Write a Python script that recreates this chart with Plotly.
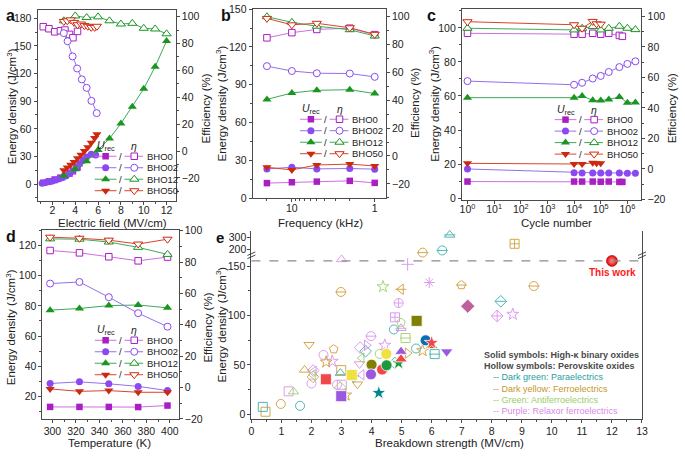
import plotly.graph_objects as go

W, H = 685, 456
FONT = "Liberation Sans, Arial, sans-serif"
INK = "#222222"
AX = "#4a4a4a"

# ---------------- data ----------------
series_names = ["BHO0", "BHO02", "BHO12", "BHO50"]

# panel a : electric field (MV/cm)
a_E_bho0 = [1.2, 1.7, 2.2, 2.7, 3.1, 3.5, 3.8, 4.2]
a_U_bho0 = [1.5, 3.0, 5.0, 7.0, 9.0, 11.5, 14.0, 18.0]
a_eta_bho0 = [92.5, 91.0, 88.7, 89.5, 90.0, 86.8, 84.3, 89.0]
a_E_bho02_U = [1.1, 1.4, 1.7, 2.0, 2.3, 2.6, 2.9, 3.2, 3.5, 3.8, 4.1, 4.4, 4.7, 5.0, 5.4, 5.8]
a_U_bho02 = [1.0, 1.8, 2.6, 3.5, 4.5, 5.8, 7.3, 9.0, 11.5, 14.5, 18.0, 22.0, 26.0, 29.5, 32.5, 31.5]
a_E_bho02_eta = [3.0, 3.33, 3.77, 4.17, 4.58, 5.0, 5.42, 5.88]
a_eta_bho02 = [87.7, 81.7, 70.4, 61.4, 53.3, 47.0, 37.3, 28.2]
a_E_bho12 = [3, 4, 5, 6, 7, 8, 9, 10, 11, 12]
a_U_bho12 = [9.2, 16.2, 24.7, 37.0, 49.4, 65.7, 84.0, 103.4, 127.4, 155.3]
a_eta_bho12 = [96.9, 100.5, 99.3, 99.8, 96.9, 94.5, 95.0, 91.3, 90.8, 87.2]
a_E_bho50 = [3.0, 3.3, 3.6, 3.9, 4.2, 4.5, 4.8, 5.1, 5.4, 5.7, 5.9]
a_U_bho50 = [15, 18, 21, 24, 28, 32, 36, 40, 45, 50, 54]
a_eta_bho50 = [96.4, 96.9, 97.6, 95.7, 94.0, 94.5, 93.3, 92.8, 92.0, 92.0, 92.8]

# panel b : frequency (kHz)
b_freq = [20, 10, 5, 2, 1]
b_U_bho0 = [11.9, 12.6, 13.1, 13.7, 12.1]
b_U_bho02 = [23.2, 24.5, 23.2, 23.5, 23.0]
b_U_bho12 = [78.4, 83.5, 85.6, 86.1, 83.0]
b_U_bho50 = [24.5, 22.4, 26.3, 27.0, 25.5]
b_eta_bho0 = [84.7, 88.4, 90.7, 91.6, 87.0]
b_eta_bho02 = [64.4, 60.9, 59.3, 59.1, 56.7]
b_eta_bho12 = [99.8, 95.8, 93.0, 90.5, 86.0]
b_eta_bho50 = [98.6, 94.0, 95.1, 91.9, 87.2]

# panel c : cycle number
c_N_bho0 = [1, 1e4, 2e4, 5e4, 1e5, 2e5, 5e5, 6.5e5]
c_U_bho0 = [9.7, 9.7, 9.7, 9.7, 9.6, 9.7, 9.5, 9.5]
c_eta_bho0 = [89.0, 88.4, 88.4, 89.0, 88.4, 89.0, 87.6, 87.0]
c_N_bho02 = [1, 1e4, 2e4, 5e4, 1e5, 2e5, 5e5, 1e6, 2e6]
c_U_bho02 = [17.1, 14.9, 14.8, 14.8, 14.7, 14.8, 14.7, 14.6, 14.6]
c_eta_bho02 = [57.6, 55.2, 56.5, 59.3, 61.0, 63.6, 66.8, 68.9, 70.6]
c_N_bho12 = [1, 1e4, 2e4, 5e4, 1e5, 2e5, 5e5, 1e6, 2e6]
c_U_bho12 = [59.0, 59.0, 60.0, 57.5, 57.3, 58.0, 59.4, 56.0, 56.2]
c_eta_bho12 = [92.3, 91.2, 92.3, 93.4, 91.2, 92.3, 93.6, 92.3, 91.4]
c_N_bho50 = [1, 1e4, 2e4, 5e4, 7e4, 1e5]
c_U_bho50 = [20.4, 20.0, 20.0, 20.8, 20.4, 20.4]
c_eta_bho50 = [96.6, 94.6, 92.3, 96.8, 95.2, 95.0]

# panel d : temperature (K)
d_T = [298, 323, 348, 373, 398]
d_U_bho0 = [13.1, 13.1, 13.1, 13.0, 14.0]
d_U_bho02 = [28.6, 29.7, 28.4, 26.7, 23.9]
d_U_bho12 = [77.2, 78.3, 80.2, 80.6, 78.7]
d_U_bho50 = [25.0, 23.4, 23.9, 22.8, 22.8]
d_eta_bho0 = [87.4, 85.9, 83.4, 80.8, 83.2]
d_eta_bho02 = [66.3, 67.3, 57.6, 47.4, 38.8]
d_eta_bho12 = [94.8, 94.6, 92.8, 89.4, 84.9]
d_eta_bho50 = [95.9, 95.2, 94.0, 91.5, 94.6]

# panel e : breakdown strength (MV/cm) vs energy density (J/cm3)
para_x = [0.38, 1.62, 2.96, 3.40, 3.80, 4.74, 4.77, 5.48, 6.10, 8.30, 6.35, 6.60]
para_y = [7.5, 8.6, 41.8, 37.0, 64.0, 86.0, 52.0, 66.7, 61.0, 114.5, 189.0, 318.0]
para_sym = ["square-open", "circle-open", "triangle-up-open", "triangle-down-open", "diamond-open",
            "circle-open", "diamond-open", "circle-open", "square-open", "diamond-open",
            "circle-open", "triangle-up-open"]
para_bar = [0, 0, 0, 0, 0, 0, 0, 0, 1, 1, 1, 1]

ferro_x = [0.47, 0.98, 1.77, 1.92, 2.05, 2.49, 2.74, 2.99, 3.14, 2.98, 3.53, 4.98, 5.20, 5.70, 6.99, 9.40, 5.70, 8.76]
ferro_y = [2.6, 10.5, 45.0, 70.5, 38.0, 53.0, 66.0, 44.8, 19.5, 124.0, 30.5, 126.7, 62.0, 64.5, 131.0, 130.0, 171.0, 244.0]
ferro_sym = ["square-open", "circle-open", "triangle-up-open", "triangle-down-open", "diamond-open",
             "star-open", "pentagon-open", "square-open", "star-open", "circle-open", "triangle-down-open",
             "triangle-left-open", "triangle-right-open", "star-open", "pentagon-open", "circle-open",
             "circle-open", "square-cross-open"]
ferro_bar = [0, 0, 0, 0, 0, 0, 0, 0, 0, 1, 0, 1, 0, 0, 1, 1, 1, 0]

anti_x = [1.40, 2.96, 3.67, 4.27, 4.38, 4.98, 5.13, 2.05]
anti_y = [23.0, 27.0, 57.0, 61.2, 129.3, 93.0, 77.3, 40.0]
anti_sym = ["triangle-up-open", "diamond-open", "triangle-left-open", "circle-open", "star-open",
            "pentagon-open", "square-open", "triangle-left-open"]
anti_bar = [0, 0, 0, 0, 0, 0, 1, 0]

relax_x = [1.24, 2.06, 2.00, 2.08, 2.40, 2.69, 2.85, 3.01, 3.00, 3.62, 3.84, 3.60, 3.67, 3.98,
           4.44, 4.90, 4.78, 4.98, 5.20, 5.92, 8.18, 8.70]
relax_y = [23.3, 44.4, 31.2, 43.7, 60.2, 53.7, 30.0, 30.0, 157.0, 67.6, 70.0, 51.0, 40.0, 79.2,
           70.0, 112.8, 98.3, 87.2, 152.0, 133.6, 99.7, 101.4]
relax_sym = ["square-open", "diamond-open", "circle-open", "triangle-left-open", "circle-open",
             "star-open", "circle-open", "square-open", "triangle-up-open", "diamond-open",
             "triangle-right-open", "triangle-down-open", "triangle-left-open", "circle-open",
             "star-open", "circle-cross-open", "square-cross-open", "triangle-up-open",
             "cross-thin-open", "asterisk-open", "diamond-cross-open", "star-open"]
relax_bar = [0, 0, 0, 0, 0, 0, 0, 0, 0, 0, 0, 0, 0, 1, 0, 0, 0, 1, 0, 0, 0, 0]

solid_x = [2.48, 2.99, 3.34, 5.50, 5.80, 6.00, 6.00, 6.50, 4.00, 3.98, 4.35, 4.50, 4.49, 4.98, 4.90, 4.98, 4.24, 7.20]
solid_y = [35.5, 18.4, 39.8, 94.7, 75.0, 69.5, 72.5, 63.5, 50.3, 40.5, 45.4, 49.7, 61.2, 63.5, 52.0, 55.9, 21.7, 109.6]
solid_sym = ["square", "square", "square", "square", "circle", "triangle-up", "star", "triangle-down",
             "circle", "circle", "circle", "circle", "circle", "triangle-up", "star", "triangle-up",
             "star", "diamond"]
solid_col = ["#f04848", "#9a58e0", "#f0e040", "#808000", "#0a6eb4", "#b45a14", "#f04848", "#9a58e0",
             "#808000", "#9a58e0", "#f04848", "#1e9a3c", "#f0e040", "#9a58e0", "#1e9a3c", "#f04848",
             "#00868b", "#c0609a"]

this_work_x = [12.0]
this_work_y = [155.5]
dash_level = 155.5
break_value = 161.2

# ---------------- styles ----------------
LINE_COL = {"BHO0": "#cf6ee0", "BHO02": "#9470ec", "BHO12": "#3da85c", "BHO50": "#d9452e"}
MARK_COL = {"BHO0": "#a81fc4", "BHO02": "#8a4af0", "BHO12": "#1a951f", "BHO50": "#cc2a10"}
SYM = {"BHO0": "square", "BHO02": "circle", "BHO12": "triangle-up", "BHO50": "triangle-down"}
MSIZE = {"BHO0": 6.5, "BHO02": 7, "BHO12": 8, "BHO50": 8}
C_PARA, C_FERRO, C_ANTI, C_RELAX = "#52b6b6", "#d6a64c", "#a6d674", "#dd9cf0"

fig = go.Figure()


def add_pair(xu, u, xe, e, name, xa, yl, yr):
    fig.add_trace(go.Scatter(
        x=xu, y=u, mode="lines+markers", xaxis=xa, yaxis=yl, cliponaxis=False,
        line=dict(color=LINE_COL[name], width=1),
        marker=dict(symbol=SYM[name], size=MSIZE[name], color=MARK_COL[name], line=dict(width=0))))
    fig.add_trace(go.Scatter(
        x=xe, y=e, mode="lines+markers", xaxis=xa, yaxis=yr, cliponaxis=False,
        line=dict(color=LINE_COL[name], width=1),
        marker=dict(symbol=SYM[name], size=MSIZE[name], color="white",
                    line=dict(color=MARK_COL[name], width=1))))


# panel a
add_pair(a_E_bho0, a_U_bho0, a_E_bho0, a_eta_bho0, "BHO0", "x", "y", "y2")
add_pair(a_E_bho02_U, a_U_bho02, a_E_bho02_eta, a_eta_bho02, "BHO02", "x", "y", "y2")
add_pair(a_E_bho12, a_U_bho12, a_E_bho12, a_eta_bho12, "BHO12", "x", "y", "y2")
add_pair(a_E_bho50, a_U_bho50, a_E_bho50, a_eta_bho50, "BHO50", "x", "y", "y2")
# panel b
add_pair(b_freq, b_U_bho0, b_freq, b_eta_bho0, "BHO0", "x2", "y3", "y4")
add_pair(b_freq, b_U_bho02, b_freq, b_eta_bho02, "BHO02", "x2", "y3", "y4")
add_pair(b_freq, b_U_bho12, b_freq, b_eta_bho12, "BHO12", "x2", "y3", "y4")
add_pair(b_freq, b_U_bho50, b_freq, b_eta_bho50, "BHO50", "x2", "y3", "y4")
# panel c
add_pair(c_N_bho0, c_U_bho0, c_N_bho0, c_eta_bho0, "BHO0", "x3", "y5", "y6")
add_pair(c_N_bho02, c_U_bho02, c_N_bho02, c_eta_bho02, "BHO02", "x3", "y5", "y6")
add_pair(c_N_bho12, c_U_bho12, c_N_bho12, c_eta_bho12, "BHO12", "x3", "y5", "y6")
add_pair(c_N_bho50, c_U_bho50, c_N_bho50, c_eta_bho50, "BHO50", "x3", "y5", "y6")
# panel d
add_pair(d_T, d_U_bho0, d_T, d_eta_bho0, "BHO0", "x4", "y7", "y8")
add_pair(d_T, d_U_bho02, d_T, d_eta_bho02, "BHO02", "x4", "y7", "y8")
add_pair(d_T, d_U_bho12, d_T, d_eta_bho12, "BHO12", "x4", "y7", "y8")
add_pair(d_T, d_U_bho50, d_T, d_eta_bho50, "BHO50", "x4", "y7", "y8")


# panel e
def add_group(xs, ys, syms, bars, color, size):
    lower = [i for i in range(len(xs)) if ys[i] <= break_value]
    upper = [i for i in range(len(xs)) if ys[i] > break_value]
    for idx, ya in ((lower, "y9"), (upper, "y10")):
        if not idx:
            continue
        fig.add_trace(go.Scatter(
            x=[xs[i] for i in idx], y=[ys[i] for i in idx], mode="markers",
            xaxis="x5", yaxis=ya, cliponaxis=False,
            marker=dict(symbol=[syms[i] for i in idx], size=size, color=color,
                        line=dict(color=color, width=1))))
        bidx = [i for i in idx if bars[i]]
        if bidx:
            fig.add_trace(go.Scatter(
                x=[xs[i] for i in bidx], y=[ys[i] for i in bidx], mode="markers",
                xaxis="x5", yaxis=ya, cliponaxis=False,
                marker=dict(symbol="line-ew-open", size=size - 1, color=color,
                            line=dict(color=color, width=1))))


add_group(relax_x, relax_y, relax_sym, relax_bar, C_RELAX, 9)
add_group(ferro_x, ferro_y, ferro_sym, ferro_bar, C_FERRO, 9)
add_group(anti_x, anti_y, anti_sym, anti_bar, C_ANTI, 9)
add_group(para_x, para_y, para_sym, para_bar, C_PARA, 9)

fig.add_trace(go.Scatter(
    x=solid_x, y=solid_y, mode="markers", xaxis="x5", yaxis="y9", cliponaxis=False,
    marker=dict(symbol=solid_sym, size=11, color=solid_col, line=dict(color="white", width=0.8))))
fig.add_trace(go.Scatter(
    x=this_work_x, y=this_work_y, mode="markers", xaxis="x5", yaxis="y9", cliponaxis=False,
    marker=dict(symbol="circle", size=11, color="#e00000",
                gradient=dict(type="radial", color="#ff9a9a"), line=dict(color="#b00000", width=0.6))))

# ---------------- legends for panels a-d (drawn on a pixel-scaled helper axis) ----------------
annotations = []
ROW = 11.8


def add_key(x0, y_title):
    annotations.append(dict(x=x0 + 11, y=y_title, xref="x7", yref="y11", text="<i>U</i><sub>rec</sub>",
                            showarrow=False, xanchor="center", yanchor="middle",
                            font=dict(family=FONT, size=10.5, color=INK)))
    annotations.append(dict(x=x0 + 40, y=y_title, xref="x7", yref="y11", text="<i>η</i>",
                            showarrow=False, xanchor="center", yanchor="middle",
                            font=dict(family=FONT, size=10.5, color=INK)))
    for i, name in enumerate(series_names):
        y = y_title + 10.3 + ROW * i
        fig.add_trace(go.Scatter(
            x=[x0, x0 + 22, None, x0 + 30, x0 + 49], y=[y, y, None, y, y], mode="lines",
            xaxis="x7", yaxis="y11", line=dict(color=LINE_COL[name], width=1)))
        fig.add_trace(go.Scatter(
            x=[x0 + 11, x0 + 40], y=[y, y], mode="markers", xaxis="x7", yaxis="y11",
            marker=dict(symbol=SYM[name], size=MSIZE[name], color=[MARK_COL[name], "white"],
                        line=dict(color=MARK_COL[name], width=[0, 1]))))
        annotations.append(dict(x=x0 + 26, y=y, xref="x7", yref="y11", text="/", showarrow=False,
                                xanchor="center", yanchor="middle",
                                font=dict(family=FONT, size=9.5, color=INK)))
        annotations.append(dict(x=x0 + 51, y=y, xref="x7", yref="y11", text=name, showarrow=False,
                                xanchor="left", yanchor="middle",
                                font=dict(family=FONT, size=9.5, color=INK)))


add_key(93, 144)
add_key(301, 106)
add_key(559, 106.4)
add_key(93, 333)


# ---------------- axes ----------------
def hx(a, b):
    return [a / W, b / W]


def vy(top, bottom):
    return [1 - bottom / H, 1 - top / H]


def mn(dt, t0=0):
    return dict(ticks="outside", ticklen=2, tickwidth=1, tickcolor=AX, dtick=dt, tick0=t0, showgrid=False)


def axis(**kw):
    d = dict(showline=True, linecolor=AX, linewidth=1, ticks="outside", ticklen=3, tickwidth=1,
             tickcolor=AX, showgrid=False, zeroline=False, fixedrange=True,
             tickfont=dict(family=FONT, size=10.5, color=INK))
    d.update(kw)
    return d


dec_vals = [1, 10, 100, 1000, 1e4, 1e5, 1e6]
dec_text = ["10<sup>%d</sup>" % k for k in range(7)]

layout = dict(
    width=W, height=H, margin=dict(l=0, r=0, t=0, b=0),
    paper_bgcolor="white", plot_bgcolor="rgba(0,0,0,0)", showlegend=False,
    font=dict(family=FONT, color=INK),
    # a
    xaxis=axis(domain=hx(35, 175), range=[0.7, 12.8], tick0=0, dtick=2, minor=mn(1), mirror=True, anchor="y",
               ticklabelstandoff=-3),
    yaxis=axis(domain=vy(4, 200), range=[-18, 189], tick0=0, dtick=30, minor=mn(15), anchor="x"),
    yaxis2=axis(overlaying="y", side="right", anchor="x", range=[-37, 105], tick0=0, dtick=20, minor=mn(10)),
    # b
    xaxis2=axis(domain=hx(253, 388), type="log", range=[1.473, -0.135], tickvals=[1, 10], ticktext=["1", "10"],
                minor=dict(ticks="outside", ticklen=2, tickcolor=AX, tickvals=[2, 3, 4, 5, 6, 7, 8, 9, 20, 30]),
                mirror=True, anchor="y3", ticklabelstandoff=-3),
    yaxis3=axis(domain=vy(3.3, 197.3), range=[0, 150], tick0=0, dtick=30, minor=mn(15), anchor="x2"),
    yaxis4=axis(overlaying="y3", side="right", anchor="x2", range=[-30.2, 105.2], tick0=0, dtick=20, minor=mn(10)),
    # c
    xaxis3=axis(domain=hx(465, 647), type="log", range=[-0.21, 6.53], tickvals=dec_vals, ticktext=dec_text,
                mirror=True, anchor="y5", ticklabelstandoff=-3),
    yaxis5=axis(domain=vy(3.3, 199), range=[-1, 111], tick0=0, dtick=20, minor=mn(10), anchor="x3"),
    yaxis6=axis(overlaying="y5", side="right", anchor="x3", range=[-20.3, 104.8], tick0=0, dtick=20, minor=mn(10)),
    # d
    xaxis4=axis(domain=hx(40, 178), range=[291.5, 407.5], tick0=300, dtick=20, minor=mn(10, 300), mirror=True, anchor="y7"),
    yaxis7=axis(domain=vy(230, 424), range=[5.2, 130.3], tick0=0, dtick=20, minor=mn(10), anchor="x4"),
    yaxis8=axis(overlaying="y7", side="right", anchor="x4", range=[-20, 100.5], tick0=0, dtick=20, minor=mn(10)),
    # e
    xaxis5=axis(domain=hx(251.7, 647.5), range=[0, 13], tick0=0, dtick=1, minor=mn(0.5), anchor="y9"),
    yaxis9=axis(domain=vy(256, 424), range=[-4.6, 161.2], tickvals=[0, 50, 100, 150], minor=mn(25),
                mirror=True, anchor="x5"),
    yaxis10=axis(domain=vy(230.7, 256), range=[149, 353], tickvals=[200, 300], mirror=True, anchor="x5",
                 ticklabelstandoff=-1),
    xaxis6=axis(domain=hx(251.7, 647.5), range=[0, 13], ticks="", showticklabels=False, side="top", anchor="y10"),
    # helper pixel axis for keys
    xaxis7=dict(domain=[0, 1], range=[0, W], visible=False, anchor="y11", fixedrange=True),
    yaxis11=dict(domain=[0, 1], range=[H, 0], visible=False, anchor="x7", fixedrange=True),
)


def ptxt(x, y, text, size=12, angle=0, bold=False, color=INK, anchor="center"):
    if bold:
        text = "<b>%s</b>" % text
    annotations.append(dict(x=x / W, y=1 - y / H, xref="paper", yref="paper", text=text, showarrow=False,
                            textangle=angle, xanchor=anchor, yanchor="middle",
                            font=dict(family=FONT, size=size, color=color)))


# panel letters
ptxt(8, 10, "a", 16, bold=True, color="#111")
ptxt(226, 10, "b", 16, bold=True, color="#111")
ptxt(434, 10, "c", 16, bold=True, color="#111")
ptxt(8, 237, "d", 16, bold=True, color="#111")
ptxt(220, 238, "e", 15, bold=True, color="#111")

# axis titles
ET = "Energy density (J/cm<sup>3</sup>)"
EF = "Efficiency (%)"
TS = 11.5
ptxt(111, 223, "Electric field (MV/cm)", TS)
ptxt(322, 223, "Frequency (kHz)", TS)
ptxt(561, 223, "Cycle number", TS)
ptxt(108, 449, "Temperature (K)", TS)
ptxt(452, 449, "Breakdown strength (MV/cm)", TS)
ptxt(9, 103, ET, TS, angle=-90)
ptxt(221, 100, ET, TS, angle=-90)
ptxt(437, 100, ET, TS, angle=-90)
ptxt(8, 330, ET, TS, angle=-90)
ptxt(221, 327, ET, TS, angle=-90)
ptxt(206, 105, EF, TS, angle=-90)
ptxt(418, 100, EF, TS, angle=-90)
ptxt(678, 105, EF, TS, angle=-90)
ptxt(208, 330, EF, TS, angle=-90)

# panel e key text
ptxt(485, 358.3, "Solid symbols: High-κ binary oxides", 9, bold=True, color="#4a4a4a", anchor="left")
ptxt(485, 370, "Hollow symbols: Perovskite oxides", 9, bold=True, color="#4a4a4a", anchor="left")
ptxt(495, 381.5, "-- Dark green: Paraelectrics", 9, color="#2a9e9e", anchor="left")
ptxt(495, 393, "-- Dark yellow: Ferroelectrics", 9, color="#c9952a", anchor="left")
ptxt(495, 404.5, "-- Green: Antiferroelectrics", 9, color="#9ccc66", anchor="left")
ptxt(495, 416, "-- Purple: Relaxor ferroelectrics", 9, color="#d98ae8", anchor="left")
ptxt(618, 274, "This work", 10, bold=True, color="#ff1a1a")

layout["annotations"] = annotations

# shapes: dashed reference level and axis-break marks
shapes = [dict(type="line", xref="x5 domain", yref="y9", x0=0, x1=1, y0=dash_level, y1=dash_level,
               line=dict(color="#8c8c8c", width=1.2, dash="dash"))]
for bx in (251.7, 647.5):
    for off in (-1.6, 1.6):
        shapes.append(dict(type="line", xref="paper", yref="paper",
                           x0=(bx - 4) / W, x1=(bx + 4) / W,
                           y0=1 - (256 + off + 1.8) / H, y1=1 - (256 + off - 1.8) / H,
                           line=dict(color="#333", width=0.9)))
layout["shapes"] = shapes

fig.update_layout(**layout)
fig.write_html("out.html", config={"displayModeBar": False},
               post_script="document.body.style.margin='0';document.body.style.overflow='hidden';")
